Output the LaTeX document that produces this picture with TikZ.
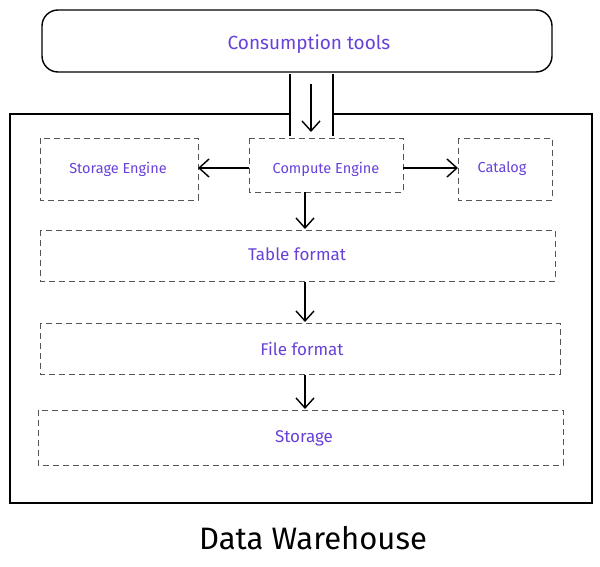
\documentclass[tikz,border=0pt]{standalone}
\usepackage{fontspec}
\setmainfont{Fira Sans}
\usetikzlibrary{arrows.meta}
\definecolor{vio}{RGB}{103,65,217}
\definecolor{dashgray}{RGB}{85,85,85}
\tikzset{
  x=1pt, y=-1pt,
  solidline/.style={line width=1.4pt, black},
  dbox/.style={draw=dashgray, line width=0.9pt, dash pattern=on 6pt off 4pt, inner sep=0pt},
  lbl/.style={text=vio, font=\fontsize{14.5}{17}\selectfont},
  biglbl/.style={text=vio, font=\fontsize{17}{20}\selectfont},
  arr/.style={line width=1.4pt, -{Straight Barb[length=10pt,width=18pt,line width=1.4pt]}},
}
\begin{document}
\begin{tikzpicture}
\useasboundingbox (0,0) rectangle (600,567);
% consumption tools
\draw[solidline, rounded corners=16pt] (42,10) rectangle (552,72);
\node[text=vio, font=\fontsize{19}{22}\selectfont] (ct) at (309,44) {Consumption tools};
% outer warehouse box with gap
\draw[solidline] (290,114) -- (10,114) -- (10,503) -- (592,503) -- (592,114) -- (333,114);
% inner boxes
\draw[dbox] (40,138) rectangle (198,200);
\node[lbl] (se) at (118,169) {Storage Engine};
\draw[dbox] (249,138) rectangle (403,192);
\node[lbl] (ce) at (326,169) {Compute Engine};
\draw[dbox] (458,138) rectangle (552,200);
\node[lbl] (cat) at (502,169) {Catalog};
\draw[dbox] (40,230) rectangle (555,281);
\node[biglbl] (tf) at (297,254) {Table format};
\draw[dbox] (40,323) rectangle (560,374);
\node[biglbl] (ff) at (302,349) {File format};
\draw[dbox] (38,410) rectangle (563,465);
\node[biglbl] (st) at (304,438) {Storage};
% coordinates for connectors
\coordinate (seR) at (198,168);
\coordinate (ceL) at (249,168);
\coordinate (ceR) at (403,168);
\coordinate (catL) at (458,168);
\coordinate (ceB) at (305,192);
\coordinate (tfT) at (305,229);
\coordinate (tfB) at (305,282);
\coordinate (ffT) at (305,322);
\coordinate (ffB) at (305,375);
\coordinate (stT) at (305,409);
\coordinate (ceT) at (311,132);
% pipe lines
\draw[solidline] (290,74) -- (290,136);
\draw[solidline] (333,74) -- (333,136);
% arrows
\draw[arr] (311,84) -- (ceT);
\draw[arr] (ceL) -- (seR);
\draw[arr] (ceR) -- (catL);
\draw[arr] (ceB) -- (tfT);
\draw[arr] (tfB) -- (ffT);
\draw[arr] (ffB) -- (stT);
% title
\node[font=\fontsize{31}{35}\selectfont] (dw) at (313,538) {Data Warehouse};
\end{tikzpicture}
\end{document}
